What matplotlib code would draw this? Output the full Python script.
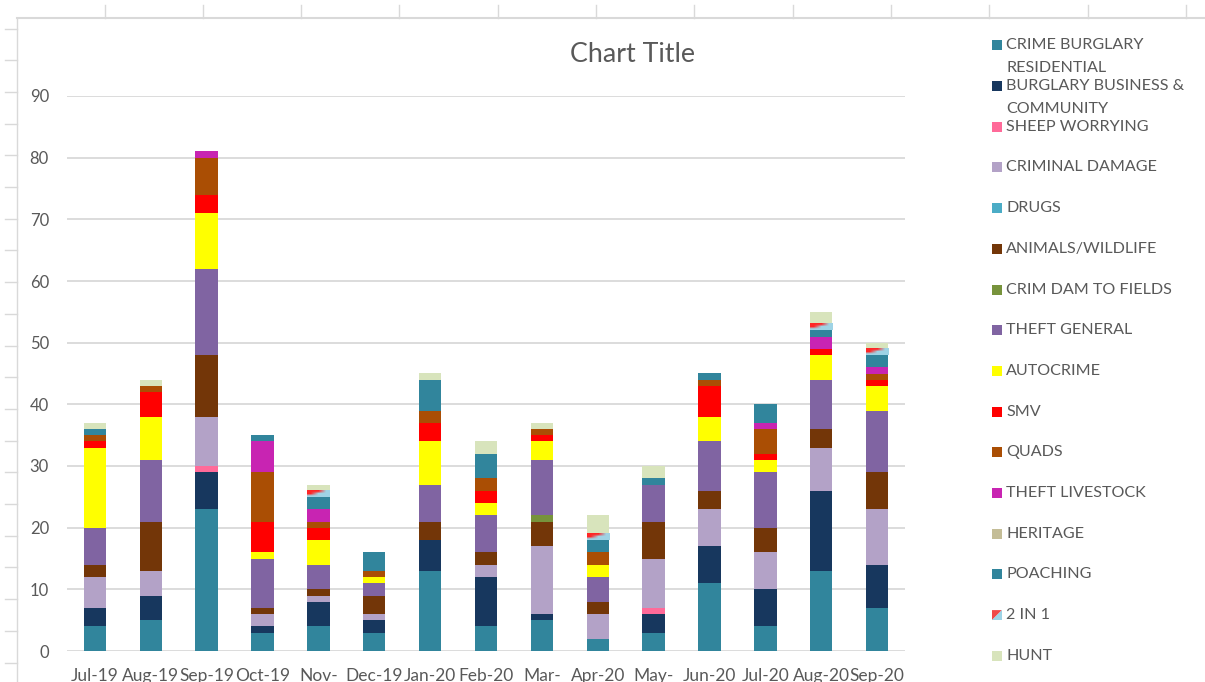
import numpy as np
import matplotlib
matplotlib.use('Agg')
import matplotlib.pyplot as plt
from matplotlib.lines import Line2D
from matplotlib.patches import Rectangle, Polygon

plt.rcParams['font.family'] = ['Lato', 'DejaVu Sans']

months = ['Jul-19', 'Aug-19', 'Sep-19', 'Oct-19', 'Nov-\n19', 'Dec-19', 'Jan-20', 'Feb-20',
          'Mar-\n20', 'Apr-20', 'May-\n20', 'Jun-20', 'Jul-20', 'Aug-20', 'Sep-20']

burglary_res    = [4, 5, 23, 3, 4, 3, 13, 4, 5, 2, 3, 11, 4, 13, 7]
burglary_bus    = [3, 4, 6, 1, 4, 2, 5, 8, 1, 0, 3, 6, 6, 13, 7]
sheep_worrying  = [0, 0, 1, 0, 0, 0, 0, 0, 0, 0, 1, 0, 0, 0, 0]
criminal_damage = [5, 4, 8, 2, 1, 1, 0, 2, 11, 4, 8, 6, 6, 7, 9]
drugs           = [0, 0, 0, 0, 0, 0, 0, 0, 0, 0, 0, 0, 0, 0, 0]
animals         = [2, 8, 10, 1, 1, 3, 3, 2, 4, 2, 6, 3, 4, 3, 6]
crim_dam_fields = [0, 0, 0, 0, 0, 0, 0, 0, 1, 0, 0, 0, 0, 0, 0]
theft_general   = [6, 10, 14, 8, 4, 2, 6, 6, 9, 4, 6, 8, 9, 8, 10]
autocrime       = [13, 7, 9, 1, 4, 1, 7, 2, 3, 2, 0, 4, 2, 4, 4]
smv             = [1, 4, 3, 5, 2, 0, 3, 2, 1, 0, 0, 5, 1, 1, 1]
quads           = [1, 1, 6, 8, 1, 1, 2, 2, 1, 2, 0, 1, 4, 0, 1]
theft_livestock = [0, 0, 1, 5, 2, 0, 0, 0, 0, 0, 0, 0, 1, 2, 1]
heritage        = [0, 0, 0, 0, 0, 0, 0, 0, 0, 0, 0, 0, 0, 0, 0]
poaching        = [1, 0, 0, 1, 2, 3, 5, 4, 0, 2, 1, 1, 3, 1, 2]
two_in_one      = [0, 0, 0, 0, 1, 0, 0, 0, 0, 1, 0, 0, 0, 1, 1]
hunt            = [1, 1, 0, 0, 1, 0, 1, 2, 1, 3, 2, 0, 0, 2, 1]

series = [
    ('CRIME BURGLARY\nRESIDENTIAL', burglary_res, '#31859C'),
    ('BURGLARY BUSINESS &\nCOMMUNITY', burglary_bus, '#17375E'),
    ('SHEEP WORRYING', sheep_worrying, '#FF6A99'),
    ('CRIMINAL DAMAGE', criminal_damage, '#B3A2C7'),
    ('DRUGS', drugs, '#4BACC6'),
    ('ANIMALS/WILDLIFE', animals, '#733608'),
    ('CRIM DAM TO FIELDS', crim_dam_fields, '#77933C'),
    ('THEFT GENERAL', theft_general, '#8064A2'),
    ('AUTOCRIME', autocrime, '#FFFF00'),
    ('SMV', smv, '#FF0000'),
    ('QUADS', quads, '#AA4E04'),
    ('THEFT LIVESTOCK', theft_livestock, '#C824B2'),
    ('HERITAGE', heritage, '#C4BD97'),
    ('POACHING', poaching, '#31859C'),
    ('2 IN 1', two_in_one, '#9DD3E6'),
    ('HUNT', hunt, '#D8E4BC'),
]

W, H = 1205, 682
TXT = '#595959'
GRID = '#D9D9D9'


def fx(px):
    return px / W


def fy(py):
    return 1 - py / H


fig = plt.figure(figsize=(W / 100, H / 100), dpi=100)

# spreadsheet cell borders around the chart
for x in [105, 203, 301, 399, 498, 596, 694, 793, 891, 989, 1088, 1186]:
    fig.add_artist(Line2D([fx(x), fx(x)], [fy(5), fy(18)], color=GRID, lw=1))
fig.add_artist(Line2D([fx(17), 1], [fy(18), fy(18)], color=GRID, lw=1.5))
fig.add_artist(Line2D([fx(17), fx(17)], [fy(18), 0], color=GRID, lw=1))
for y in np.arange(28.5, H, 31.7):
    fig.add_artist(Line2D([fx(5), fx(17)], [fy(y), fy(y)], color=GRID, lw=1))

ax = fig.add_axes([fx(67), fy(651), fx(905 - 67), (651 - 96) / H])

x = np.arange(len(months))
bottom = np.zeros(len(months))
red = np.array([1.0, 0.15, 0.15])
blue = np.array([0.62, 0.83, 0.9])
grad = np.array([[red, red, blue], [red, blue, blue], [blue, blue, blue]])
for name, vals, col in series:
    bars = ax.bar(x, vals, 0.4, bottom=bottom, color=col, zorder=2)
    if name == '2 IN 1':
        for r in bars:
            if r.get_height() > 0:
                ax.imshow(grad, extent=(r.get_x(), r.get_x() + r.get_width(),
                                        r.get_y(), r.get_y() + r.get_height()),
                          aspect='auto', interpolation='bilinear', zorder=2.5)
    bottom += np.array(vals)

ax.set_xlim(-0.5, len(months) - 0.5)
ax.set_ylim(0, 90)
ax.set_yticks(range(0, 91, 10))
ax.set_xticks(x)
ax.set_xticklabels(months)
ax.tick_params(axis='y', length=0, pad=13, labelsize=12, labelcolor=TXT)
ax.tick_params(axis='x', length=0, pad=12.5, labelsize=12.5, labelcolor=TXT)
ax.grid(axis='y', color=GRID, lw=1.3, zorder=0)
ax.set_axisbelow(True)
for s in ax.spines.values():
    s.set_visible(False)

fig.text(fx(633), fy(54), 'Chart Title', ha='center', va='center', fontsize=19.3, color=TXT)

# legend on the right
for i, (name, vals, col) in enumerate(series):
    yc = 45.3 + 40.7 * i
    if name == '2 IN 1':
        fig.add_artist(Polygon([(fx(992), fy(yc - 5)), (fx(1002), fy(yc - 5)), (fx(992), fy(yc + 5))],
                               closed=True, color='#F04848', lw=0))
        fig.add_artist(Polygon([(fx(1002), fy(yc - 5)), (fx(1002), fy(yc + 5)), (fx(992), fy(yc + 5))],
                               closed=True, color='#9DD3E6', lw=0))
    else:
        fig.add_artist(Rectangle((fx(992), fy(yc + 5)), fx(10), 10 / H, color=col, lw=0))
    for j, line in enumerate(name.split('\n')):
        fig.text(fx(1006), fy(yc + 23 * j), line, ha='left', va='center', fontsize=11.6, color=TXT)

fig.savefig('out.png', dpi=100)
